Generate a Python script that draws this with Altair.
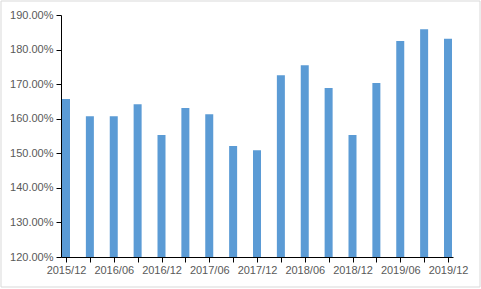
import altair as alt
import pandas as pd

periods = ["2015/12", "2016/03", "2016/06", "2016/09", "2016/12", "2017/03",
           "2017/06", "2017/09", "2017/12", "2018/03", "2018/06", "2018/09",
           "2018/12", "2019/03", "2019/06", "2019/09", "2019/12"]
values = [1.657, 1.607, 1.607, 1.642, 1.553, 1.631, 1.613, 1.521, 1.509,
          1.726, 1.755, 1.689, 1.553, 1.703, 1.825, 1.859, 1.831]

df = pd.DataFrame({"idx": list(range(len(periods))), "period": periods, "value": values})

labels_js = "[" + ",".join(f"'{p}'" for p in periods) + "]"

bars = alt.Chart(df).mark_bar(color="#5B9BD5", size=8, clip=True).encode(
    x=alt.X("idx:Q",
            scale=alt.Scale(domain=[0, len(periods) - 1], nice=False, zero=False),
            axis=alt.Axis(values=list(range(len(periods))),
                          labelExpr=f"datum.value % 2 == 0 ? {labels_js}[datum.value] : ''",
                          title=None, grid=False, domainColor="black", tickColor="black",
                          tickSize=5, labelPadding=2, labelFont="Liberation Sans",
                          labelFontSize=11, labelColor="#595959", labelOverlap=False,
                          labelFlush=False)),
    y=alt.Y("value:Q",
            scale=alt.Scale(domain=[1.2, 1.9], nice=False, zero=False),
            axis=alt.Axis(values=[1.2, 1.3, 1.4, 1.5, 1.6, 1.7, 1.8, 1.9], format=".2%",
                          title=None, grid=False, domainColor="black", tickColor="black",
                          tickSize=5, labelPadding=3, labelFont="Liberation Sans",
                          labelFontSize=11, labelColor="#595959")),
)

frame = alt.Chart(df.head(1)).mark_rect(filled=False, stroke="#D9D9D9", strokeWidth=1, clip=False).encode(
    x=alt.value(-60), x2=alt.value(419), y=alt.value(-14), y2=alt.value(272)
)

chart = alt.layer(frame, bars).properties(
    width=392, height=242,
    background="white",
    autosize=alt.AutoSizeParams(type="none"),
    padding={"left": 61, "top": 15, "right": 28, "bottom": 32},
).configure_view(stroke=None)

chart.save("out.html", embed_options={"renderer": "svg", "actions": False})
